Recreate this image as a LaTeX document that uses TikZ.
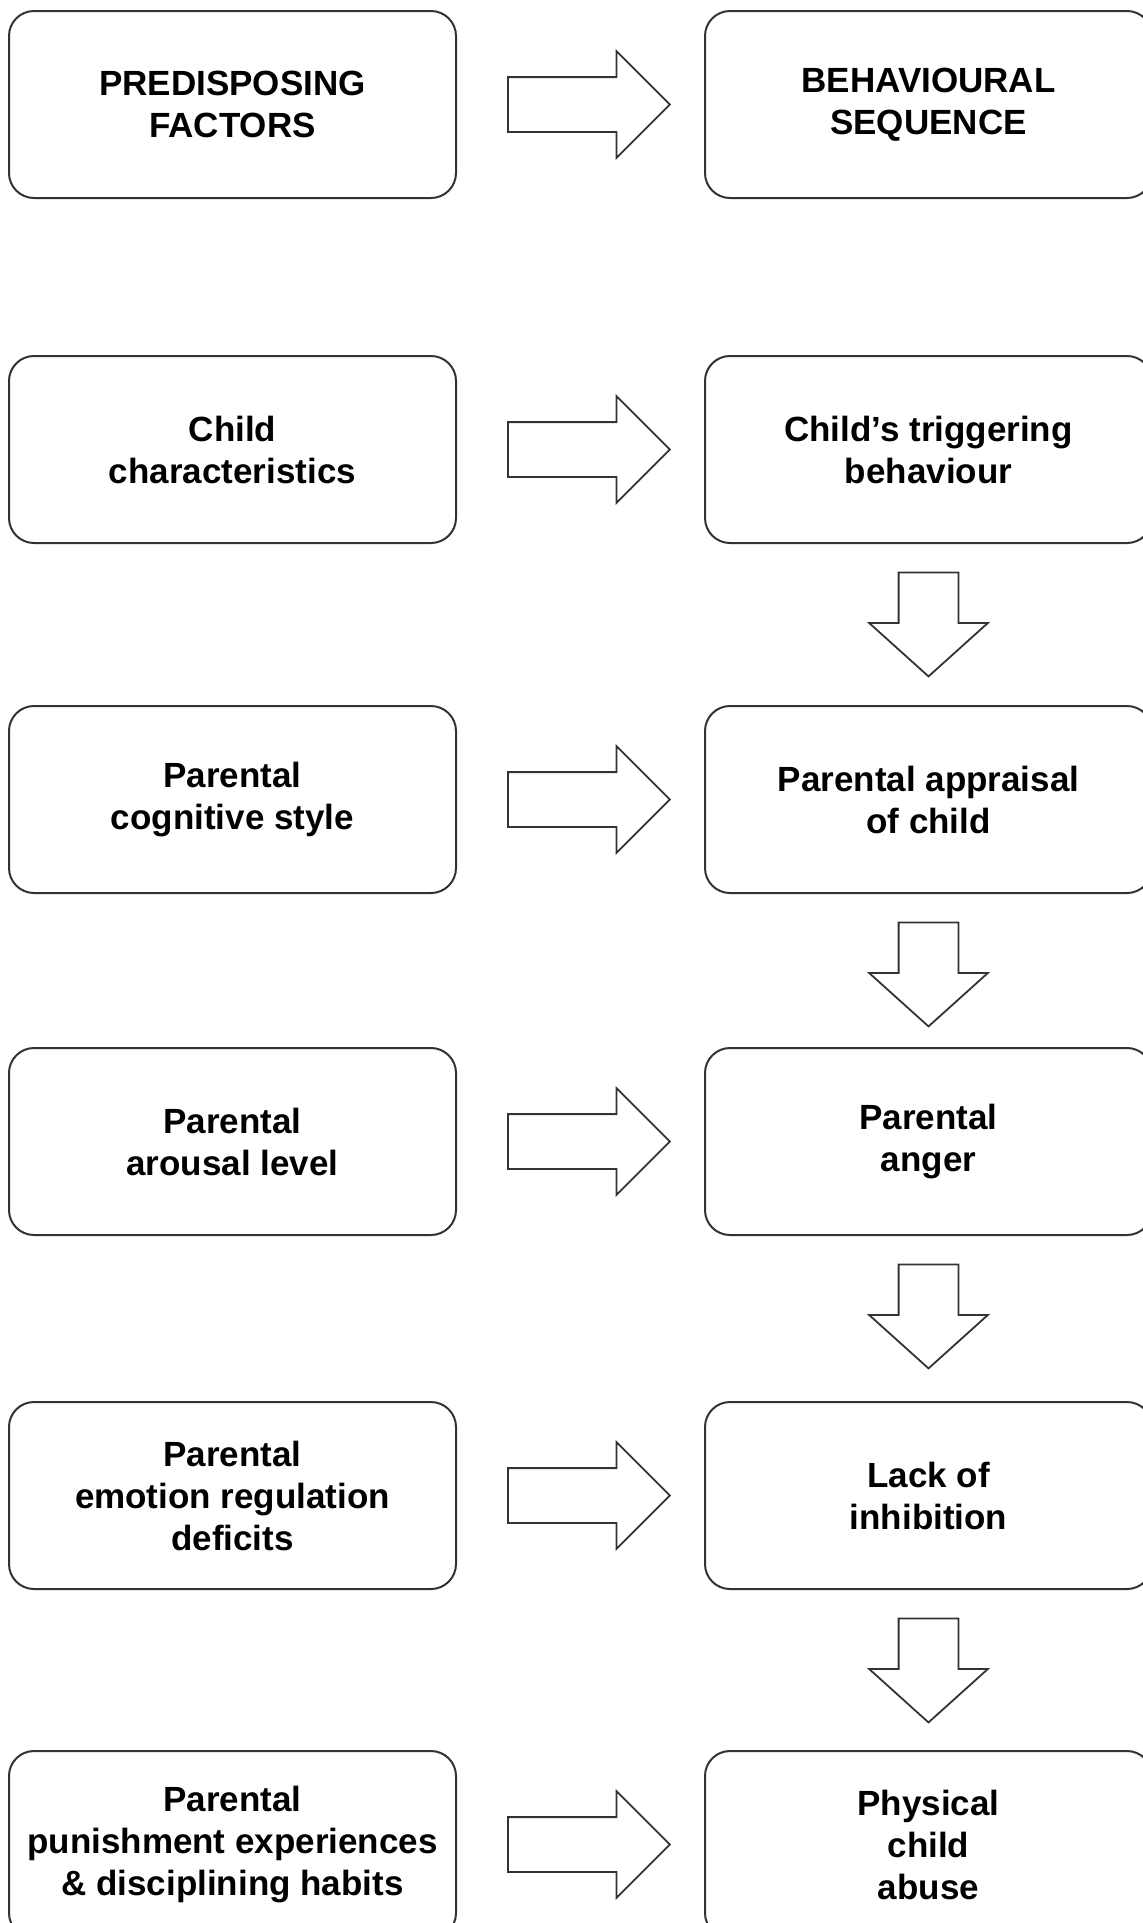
\documentclass[tikz,border=0pt]{standalone}
\usepackage{fontspec}
\setmainfont{Liberation Sans}
\usetikzlibrary{positioning,shapes.arrows}

\tikzset{
  stage/.style={draw=black!80, line width=2pt, rounded corners=25pt,
    minimum width=447pt, minimum height=187pt, align=center,
    font=\fontsize{35}{42}\selectfont\bfseries},
  rblock/.style={single arrow, draw=black!80, line width=1.8pt,
    inner xsep=0pt, inner ysep=26.5pt,
    minimum height=162pt, single arrow head extend=26pt},
  dblock/.style={rblock, shape border rotate=270,
    inner xsep=29pt, inner ysep=0pt, minimum height=104pt,
    single arrow head extend=29.5pt, single arrow tip angle=96}
}

\begin{document}
\begin{tikzpicture}[x=1pt,y=1pt]
  \useasboundingbox (0,0) rectangle (1143,-1923);

  % predisposing factors
  \node[stage] (pre) at (232.5,-104.5) {PREDISPOSING\\FACTORS};
  \node[stage, below=156pt of pre] (child) {Child\\characteristics};
  \node[stage, below=161pt of child] (cog) {Parental\\cognitive style};
  \node[stage, below=153pt of cog] (arousal) {Parental\\arousal level};
  \node[stage, below=165pt of arousal] (emo) {Parental\\emotion regulation\\deficits};
  \node[stage, below=160pt of emo] (pun) {Parental\\punishment experiences\\\& disciplining habits};

  % behavioural sequence
  \node[stage, right=247pt of pre] (seq) {BEHAVIOURAL\\SEQUENCE};
  \node[stage, right=247pt of child] (trig) {Child’s triggering\\behaviour};
  \node[stage, right=247pt of cog] (appr) {Parental appraisal\\of child};
  \node[stage, right=247pt of arousal] (anger) {Parental\\anger};
  \node[stage, right=247pt of emo] (inhib) {Lack of\\inhibition};
  \node[stage, right=247pt of pun] (abuse) {Physical\\child\\abuse};

  % block arrows
  \foreach \a in {pre,child,cog,arousal,emo,pun}
    \node[rblock, right=50pt of \a] (to-\a) {};
  \foreach \a in {trig,appr,anger,inhib}
    \node[dblock, below=27.5pt of \a] (down-\a) {};
\end{tikzpicture}
\end{document}
